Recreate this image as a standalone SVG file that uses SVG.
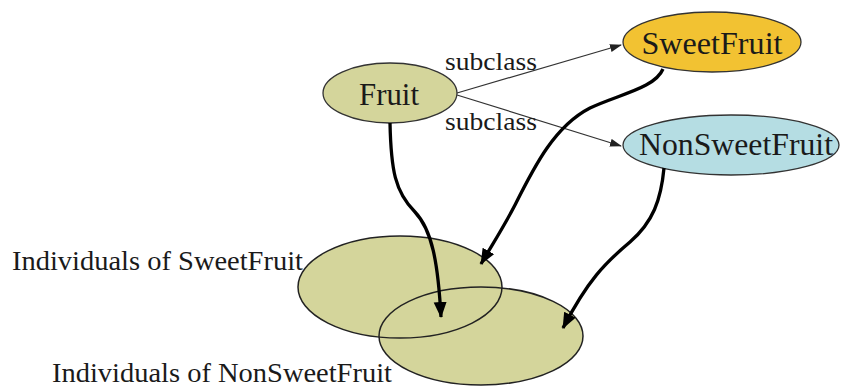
<svg xmlns="http://www.w3.org/2000/svg" width="843" height="387" viewBox="0 0 843 387">
<style>
text{font-family:"Liberation Serif","Times New Roman","DejaVu Serif",serif;fill:#1a1a1a}
.node{stroke:#333;stroke-width:1.3}
.fill{fill:#d4d59b;stroke:none}
.edge{fill:none;stroke:#222;stroke-width:1.5}
.thin{fill:none;stroke:#333;stroke-width:1.2}
.thick{fill:none;stroke:#000;stroke-width:3.3}
</style>
<defs>
<marker id="ah" markerUnits="userSpaceOnUse" markerWidth="12" markerHeight="10" refX="11" refY="4" orient="auto"><path d="M0,0 L12,4 L0,8 z" fill="#222"/></marker>
<marker id="big" markerUnits="userSpaceOnUse" markerWidth="16" markerHeight="14" refX="15" refY="6.5" orient="auto"><path d="M0,0 L16,6.5 L0,13 z" fill="#000"/></marker>
</defs>
<g id="ind-sweet">
<ellipse class="fill" cx="400" cy="287" rx="102" ry="51"/>
<text x="12" y="270" font-size="27" textLength="291" lengthAdjust="spacingAndGlyphs">Individuals of SweetFruit</text>
</g>
<g id="ind-nonsweet">
<ellipse class="fill" cx="481" cy="336" rx="102" ry="49"/>
<text x="52" y="382" font-size="27" textLength="340" lengthAdjust="spacingAndGlyphs">Individuals of NonSweetFruit</text>
</g>
<g id="ind-outlines">
<ellipse class="edge" cx="400" cy="287" rx="102" ry="51"/>
<ellipse class="edge" cx="481" cy="336" rx="102" ry="49"/>
</g>
<g id="fruit">
<ellipse class="node" cx="390" cy="93" rx="67" ry="30" fill="#d4d59b"/>
<text x="389" y="105" font-size="31" text-anchor="middle" textLength="60" lengthAdjust="spacingAndGlyphs">Fruit</text>
</g>
<g id="sweetfruit">
<ellipse class="node" cx="712" cy="42" rx="89" ry="30" fill="#f2c232"/>
<text x="712" y="54" font-size="31" text-anchor="middle" textLength="141" lengthAdjust="spacingAndGlyphs">SweetFruit</text>
</g>
<g id="nonsweetfruit">
<ellipse class="node" cx="731" cy="145" rx="108" ry="30" fill="#b5dde3"/>
<text x="736" y="155" font-size="31" text-anchor="middle" textLength="194" lengthAdjust="spacingAndGlyphs">NonSweetFruit</text>
</g>
<g id="connectors">
<path class="thin" d="M457,93 L621,45" marker-end="url(#ah)"/>
<path class="thin" d="M457,95 L621,146" marker-end="url(#ah)"/>
<text x="445" y="70" font-size="26" textLength="92" lengthAdjust="spacingAndGlyphs">subclass</text>
<text x="445" y="130" font-size="26" textLength="92" lengthAdjust="spacingAndGlyphs">subclass</text>
<path class="thick" d="M390,123 C391,170 395,192 415,212 C432,230 438,262 441,317" marker-end="url(#big)"/>
<path class="thick" d="M663,69 C655,88 620,94 590,108 C555,126 535,165 515,205 C502,230 490,248 481,264" marker-end="url(#big)"/>
<path class="thick" d="M664,168 C661,200 653,222 630,242 C605,263 588,280 563,328" marker-end="url(#big)"/>
</g>
</svg>
